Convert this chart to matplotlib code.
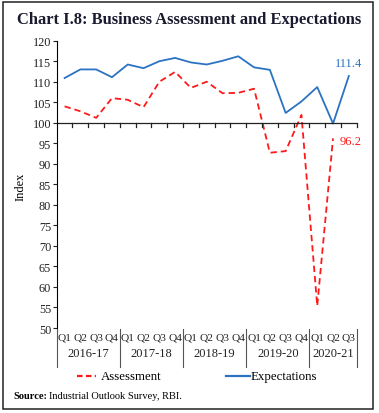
import matplotlib
matplotlib.use("Agg")
import matplotlib.pyplot as plt
from matplotlib.lines import Line2D
from matplotlib.patches import Rectangle
import numpy as np

plt.rcParams['font.family'] = ['Liberation Serif', 'DejaVu Serif']

quarters = ["Q1", "Q2", "Q3", "Q4"] * 4 + ["Q1", "Q2", "Q3"]
years = ["2016-17", "2017-18", "2018-19", "2019-20", "2020-21"]
year_sizes = [4, 4, 4, 4, 3]
assessment = [104.0, 102.8, 101.2, 106.0, 105.6, 103.8, 110.0, 112.4,
              108.5, 110.0, 107.2, 107.3, 108.3, 92.7, 93.1, 101.9, 55.4, 96.2]
expectations = [110.9, 113.0, 113.0, 111.1, 114.2, 113.3, 115.0, 115.8,
                114.7, 114.2, 115.1, 116.2, 113.5, 112.9, 102.4, 105.2, 108.7, 99.8, 111.4]
yticks = list(range(50, 125, 5))

red = "#FF1A1A"
blue = "#2B73C2"

fig = plt.figure(figsize=(3.79, 4.14), dpi=100)
ax = fig.add_axes([0.1496, 0.2053, 0.7916, 0.694])
n = len(quarters)
xa = np.arange(len(assessment)) + 0.5
xe = np.arange(len(expectations)) + 0.5
ax.plot(xe, expectations, color=blue, lw=1.3)
ax.plot(xa, assessment, color=red, lw=1.3, dashes=(3.5, 2.2))
ax.set_xlim(0, n)
ax.set_ylim(50, 120)
ax.set_yticks(yticks)
ax.tick_params(axis='y', labelsize=8.8, length=3, width=0.8, pad=1, colors='#222222')
for s in ['top', 'right', 'bottom']:
    ax.spines[s].set_visible(False)
ax.spines['left'].set_linewidth(0.8)
ax.set_xticks([])
# horizontal line at 100 with ticks
ax.axhline(100, color='#222222', lw=0.9, xmin=0, xmax=1)
for i in range(1, n + 1):
    ax.plot([i, i], [100, 98.9], color='#222222', lw=0.9, clip_on=False)
ax.set_ylabel("Index", fontsize=9)
ax.yaxis.set_label_coords(-0.1, 0.495)

trans = ax.get_xaxis_transform()
for i, q in enumerate(quarters):
    ax.text(i + 0.5, -0.03, q, transform=trans, ha='center', va='center', fontsize=8.2, color='#222222')
start = 0
bounds = [0]
for yname, sz in zip(years, year_sizes):
    ax.text(start + sz / 2, -0.088, yname, transform=trans, ha='center', va='center', fontsize=9, color='#222222')
    start += sz
    bounds.append(start)
for b in bounds:
    ax.plot([b, b], [-0.003, -0.134], transform=trans, color='#555555', lw=0.8, clip_on=False)

ax.text(xe[-1], 113.2, "111.4", color=blue, fontsize=9, ha='center', va='bottom')
ax.text(xe[-1] + 0.1, 95.5, "96.2", color=red, fontsize=9, ha='center', va='center')

fig.text(0.498, 0.951, "Chart I.8: Business Assessment and Expectations", ha='center', va='center',
         fontsize=11.9, fontweight='bold', color='#1a1a2e')

# legend
fig.add_artist(Line2D([77/379, 96/379], [1-377/414]*2, color=red, lw=1.6, dashes=(2.5, 1.5)))
fig.text(101/379, 1-377/414, "Assessment", fontsize=9.3, va='center', ha='left')
fig.add_artist(Line2D([226/379, 250/379], [1-377/414]*2, color=blue, lw=1.6))
fig.text(251/379, 1-377/414, "Expectations", fontsize=9.3, va='center', ha='left')

fig.text(13/379, 1-397/414, "Source:", fontsize=7.5, fontweight='bold', va='center', ha='left')
fig.text(49/379, 1-397/414, "Industrial Outlook Survey, RBI.", fontsize=7.5, va='center', ha='left')

fig.add_artist(Rectangle((2.5/379, 1-410/414), 370/379, 407/414, transform=fig.transFigure,
                         fill=False, edgecolor='#222222', lw=1.1))

fig.savefig("out.png", dpi=100)
